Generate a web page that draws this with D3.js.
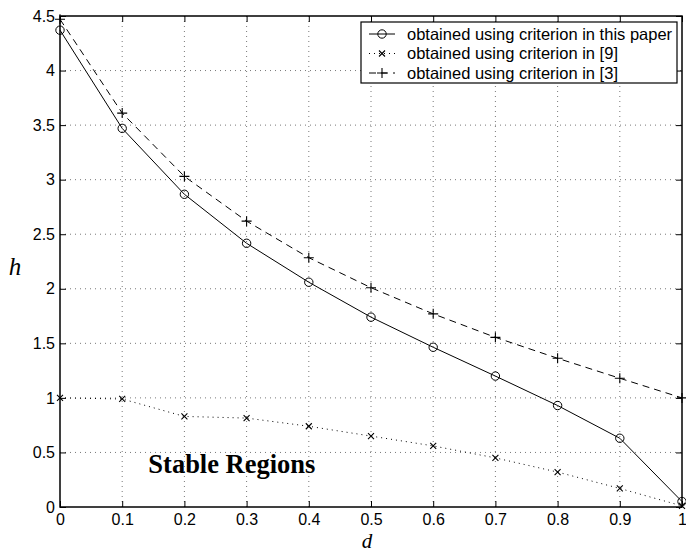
<!DOCTYPE html>
<html>
<head>
<meta charset="utf-8">
<script src="https://cdn.jsdelivr.net/npm/d3@7"></script>
<style>
  body { margin: 0; background: #fff; }
  svg { display: block; }
</style>
</head>
<body>
<svg id="chart"></svg>
<script>
var width = 686,
    height = 553;

// data
var dValues = [0, 0.1, 0.2, 0.3, 0.4, 0.5, 0.6, 0.7, 0.8, 0.9, 1];
var hThisPaper = [4.37, 3.47, 2.866, 2.417, 2.06, 1.74, 1.464, 1.20, 0.93, 0.63, 0.05];
var hRef9 = [1.0, 0.99, 0.83, 0.815, 0.74, 0.65, 0.56, 0.45, 0.32, 0.17, 0.01];
var hRef3 = [4.47, 3.61, 3.03, 2.62, 2.285, 2.01, 1.77, 1.555, 1.363, 1.18, 1.0];
var xTicks = [0, 0.1, 0.2, 0.3, 0.4, 0.5, 0.6, 0.7, 0.8, 0.9, 1];
var yTicks = [0, 0.5, 1, 1.5, 2, 2.5, 3, 3.5, 4, 4.5];
var legendLabels = ["obtained using criterion in this paper",
                    "obtained using criterion in [9]",
                    "obtained using criterion in [3]"];

var plotL = 60, plotR = 682, plotT = 16, plotB = 507;

var x = d3.scaleLinear().domain([0, 1]).range([plotL, plotR]);
var y = d3.scaleLinear().domain([0, 4.5]).range([plotB, plotT]);

var svg = d3.select("#chart").attr("width", width).attr("height", height);

// grid
var grid = svg.append("g").attr("stroke", "#555").attr("stroke-width", 0.8)
    .attr("stroke-dasharray", "1,4");
grid.selectAll(".gx").data(xTicks.slice(1, -1)).enter().append("line")
    .attr("x1", function(d) { return x(d); }).attr("x2", function(d) { return x(d); })
    .attr("y1", plotB).attr("y2", plotT);
grid.selectAll(".gy").data(yTicks.slice(1, -1)).enter().append("line")
    .attr("y1", function(d) { return y(d); }).attr("y2", function(d) { return y(d); })
    .attr("x1", plotL).attr("x2", plotR);

// axes with inward ticks
var fontAxis = "'Liberation Sans', Arial, sans-serif";
var xAxis = d3.axisBottom(x).tickValues(xTicks).tickSize(-6).tickPadding(7)
    .tickFormat(d3.format("~g"));
var yAxis = d3.axisLeft(y).tickValues(yTicks).tickSize(-6).tickPadding(5)
    .tickFormat(d3.format("~g"));
var xTop = d3.axisTop(x).tickValues(xTicks).tickSize(-6).tickFormat("");
var yRight = d3.axisRight(y).tickValues(yTicks).tickSize(-6).tickFormat("");

function styleAxis(g) {
  g.select(".domain").remove();
  g.selectAll("line").attr("stroke", "#000");
  g.selectAll("text").attr("fill", "#000").style("font-family", fontAxis).style("font-size", "16px");
}
svg.append("g").attr("transform", "translate(0," + plotB + ")").call(xAxis).call(styleAxis);
svg.append("g").attr("transform", "translate(" + plotL + ",0)").call(yAxis).call(styleAxis);
svg.append("g").attr("transform", "translate(0," + plotT + ")").call(xTop).call(styleAxis);
svg.append("g").attr("transform", "translate(" + plotR + ",0)").call(yRight).call(styleAxis);

svg.append("rect").attr("x", plotL).attr("y", plotT)
    .attr("width", plotR - plotL).attr("height", plotB - plotT)
    .attr("fill", "none").attr("stroke", "#000").attr("stroke-width", 1.5);

// series
var series = [
  { values: hThisPaper, dash: null, marker: "circle" },
  { values: hRef9, dash: "1,4", marker: "x" },
  { values: hRef3, dash: "7,5", marker: "plus" }
];

var line = d3.line()
    .x(function(d, i) { return x(dValues[i]); })
    .y(function(d) { return y(d); });

function drawMarker(g, type, cx, cy) {
  if (type === "circle") {
    g.append("circle").attr("cx", cx).attr("cy", cy).attr("r", 4.2)
      .attr("fill", "none").attr("stroke", "#000").attr("stroke-width", 1);
  } else if (type === "plus") {
    g.append("path").attr("d", "M" + (cx - 5) + "," + cy + "H" + (cx + 5) + "M" + cx + "," + (cy - 5) + "V" + (cy + 5))
      .attr("stroke", "#000").attr("stroke-width", 1.1);
  } else {
    g.append("path").attr("d", "M" + (cx - 3) + "," + (cy - 3) + "L" + (cx + 3) + "," + (cy + 3) +
      "M" + (cx - 3) + "," + (cy + 3) + "L" + (cx + 3) + "," + (cy - 3))
      .attr("stroke", "#000").attr("stroke-width", 1.1);
  }
}

series.forEach(function(s) {
  var g = svg.append("g");
  g.append("path").datum(s.values).attr("d", line)
    .attr("fill", "none").attr("stroke", "#000").attr("stroke-width", 1)
    .attr("stroke-dasharray", s.dash);
  s.values.forEach(function(v, i) { drawMarker(g, s.marker, x(dValues[i]), y(v)); });
});

// legend
var lg = svg.append("g");
lg.append("rect").attr("x", 361).attr("y", 22).attr("width", 316).attr("height", 61)
  .attr("fill", "#fff").attr("stroke", "#000").attr("stroke-width", 1.2);
series.forEach(function(s, i) {
  var ly = 34 + i * 19.5;
  lg.append("line").attr("x1", 369).attr("x2", 395).attr("y1", ly).attr("y2", ly)
    .attr("stroke", "#000").attr("stroke-width", 1).attr("stroke-dasharray", s.dash);
  drawMarker(lg, s.marker, 382, ly);
  lg.append("text").attr("x", 407).attr("y", ly + 5.5).text(legendLabels[i])
    .style("font-family", fontAxis).style("font-size", "16.5px");
});

// labels
svg.append("text").attr("x", 15).attr("y", 275).attr("text-anchor", "middle")
  .style("font-family", "'Liberation Serif', 'Times New Roman', serif")
  .style("font-style", "italic").style("font-size", "25px").text("h");
svg.append("text").attr("x", 367).attr("y", 548).attr("text-anchor", "middle")
  .style("font-family", "'Liberation Serif', 'Times New Roman', serif")
  .style("font-style", "italic").style("font-size", "21px").text("d");
svg.append("text").attr("x", x(0.142)).attr("y", y(0.31))
  .style("font-family", "'Liberation Serif', 'Times New Roman', serif")
  .style("font-weight", "bold").style("font-size", "26.5px").text("Stable Regions");
</script>
</body>
</html>
